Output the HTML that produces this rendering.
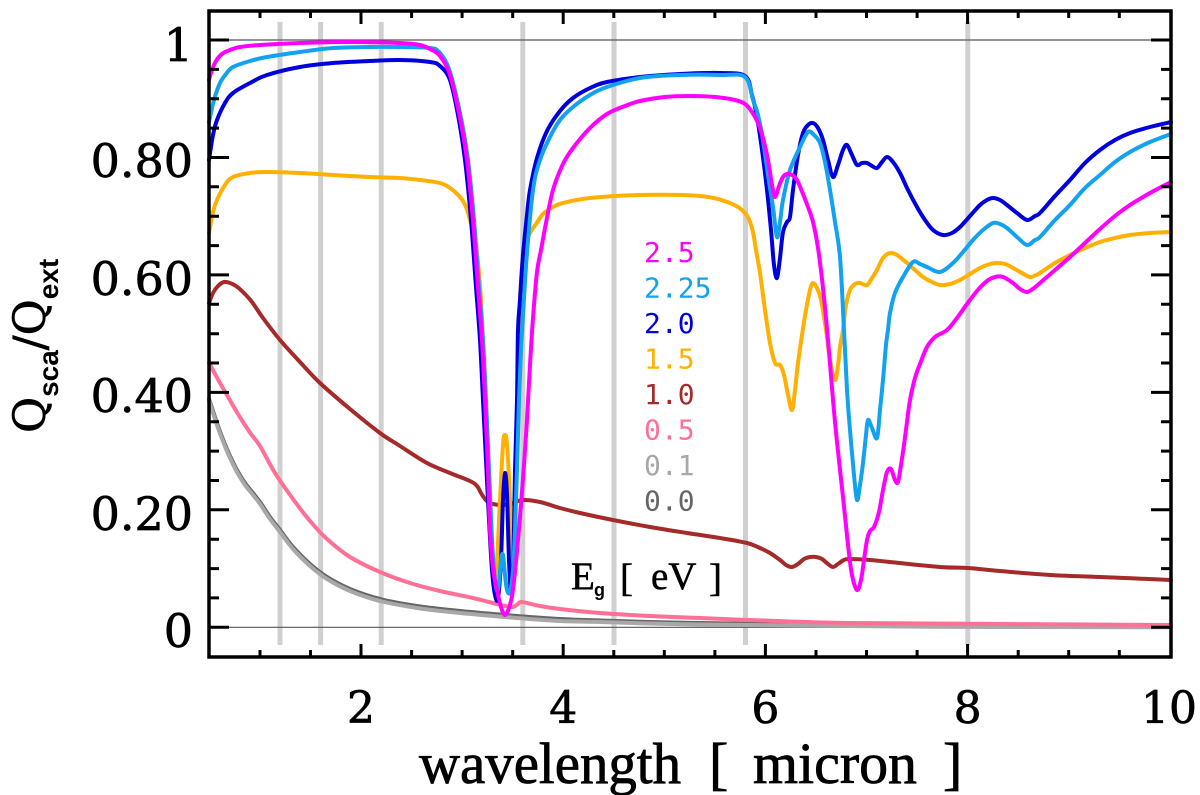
<!DOCTYPE html>
<html>
<head>
<meta charset="utf-8">
<style>
  html, body { margin:0; padding:0; background:#fff; }
  svg { display:block; }
</style>
</head>
<body>
<svg id="chart" width="1200" height="795" viewBox="0 0 1200 795" xmlns="http://www.w3.org/2000/svg">
  <rect x="0" y="0" width="1200" height="795" fill="#fff"/>

  <!-- vertical gray reference lines -->
  <g stroke="#d0d0d0" stroke-width="5">
    <line x1="280" y1="22" x2="280" y2="645"/>
    <line x1="320.6" y1="22" x2="320.6" y2="645"/>
    <line x1="381.2" y1="22" x2="381.2" y2="645"/>
    <line x1="522.8" y1="22" x2="522.8" y2="645"/>
    <line x1="614" y1="22" x2="614" y2="645"/>
    <line x1="745.5" y1="22" x2="745.5" y2="645"/>
    <line x1="967.8" y1="22" x2="967.8" y2="645"/>
  </g>

  <!-- horizontal lines at 0 and 1 -->
  <g stroke="#555" stroke-width="1.2">
    <line x1="209" y1="40" x2="1171" y2="40"/>
    <line x1="209" y1="627.3" x2="1171" y2="627.3"/>
  </g>

  <!-- curves -->
  <g id="curves" fill="none" stroke-width="4" stroke-linejoin="round" stroke-linecap="round">
    <polyline class="c" stroke="#666666" points="209,399 213,411 218,426 224,442 230,456 237,470 245,483 253,493 260,502 270,517 280,530 293,547 310,564 327,577 350,589 380,599 417,606 450,610 493,614 517,616 560,619 600,620.5 650,622 700,623 800,624.5 900,625.5 1000,626 1171,626.5"/>
    <polyline class="c" stroke="#a8a8a8" points="209,401 213,413 218,428 224,444 230,458 237,472 245,485 253,495 260,504 270,519 280,532 293,549 310,566 327,579 350,591 380,601 417,608 450,612 493,616 517,618 560,621 600,622 650,623.5 700,624.5 800,625.5 900,626.5 1000,627 1171,627.3"/>
    <polyline class="c" stroke="#ff7096" points="209,363 214,372 220,383 227,395 235,409 243,422 251,434 260,446 275,473 293,499 310,521 327,539 350,557 380,572 410,583 440,591 473,598 493,603 505,606 513,607 518,604 522,602 540,606 560,609 600,613 650,616 700,618 750,620 850,623 1000,624 1171,625"/>
    <polyline class="c" stroke="#a52a2a" points="209,303 213,293 218,286 224,282 230,283 236,286 243,292 252,302 263,318 280,340 300,362 320,383 350,409 380,433 400,446 427,463 450,473 470,481 477,486 481,493 485,499 490,503 500,505 510,504 523,500 540,502 560,508 580,513 613,520 650,527 687,533 720,538 747,543 760,548 770,553 780,560 786,565 792,567 798,564 804,559 810,557 816,557 822,559 828,564 833,567 838,564 844,560 850,559 870,560 890,562 940,567 968,568 1000,571 1050,575 1100,577 1171,580"/>
    <polyline class="c" stroke="#ffb000" points="209,233 213,212 217,200 225,185 233,177 250,173 267,172 300,173 333,175 370,177 400,178 420,180 440,183 450,188 460,197 466,207 470,220 474,236 477,253 480,285 482,320 485,400 488,480 491,550 494,580 497,560 500,500 503,445 505,435 507,445 510,500 512,560 514,570 516,480 518,380 520,300 523,258 527,240 530,233 536,224 543,214 553,207 563,203 590,198 640,195 700,196 730,203 745,213 752,228 756,250 760,273 765,310 770,343 775,363 780,365 784,375 788,395 792,410 795,390 798,363 802,335 806,310 810,290 813,283 817,288 821,300 826,330 830,360 835,380 838,365 840,347 843,330 846,305 850,290 855,284 860,283 867,285 872,278 877,270 883,258 890,253 897,255 907,263 915,270 923,277 932,282 940,285 950,284 960,280 970,274 980,268 990,264 997,263 1005,264 1013,268 1022,273 1030,277 1036,275 1040,273 1055,263 1070,255 1085,248 1100,242 1115,238 1130,235 1150,233 1171,232"/>
    <polyline class="c" stroke="#0000dd" points="209,160 213,135 217,120 225,103 233,93 250,83 267,75 300,67 333,63 370,61 400,60 430,62 440,66 450,80 458,115 465,160 471,220 476,287 480,340 483,400 486,460 489,520 492,570 495,595 498,598 501,560 503,500 505,473 507,495 509,560 511,592 513,580 515,470 517,400 518,330 520,300 523,255 527,215 530,190 537,158 547,131 560,111 573,98 590,88 607,82 640,77 680,74 720,73 745,76 752,95 757,117 762,150 767,190 771,230 774,265 777,278 780,258 783,232 787,222 790,217 793,190 798,155 803,133 808,125 813,123 818,128 823,140 828,160 833,177 838,165 843,150 847,145 852,155 857,165 862,163 867,163 872,166 877,168 882,162 887,157 893,162 900,173 908,190 917,207 925,220 933,230 943,235 952,233 960,227 970,216 980,205 987,200 993,198 1000,200 1007,205 1017,213 1027,220 1035,216 1040,213 1055,196 1070,180 1085,163 1100,150 1115,140 1130,133 1150,127 1171,122"/>
    <polyline class="c" stroke="#12a2ee" points="209,122 214,100 220,83 226,74 233,67 250,61 267,57 300,52 333,48 370,47 400,47 430,48 440,53 450,72 461,118 468,160 474,220 479,287 483,340 486,400 489,470 492,540 495,580 498,590 501,560 503,555 505,575 507,590 510,592 513,570 515,530 517,470 519,400 521,350 523,315 527,253 533,190 540,160 550,137 560,120 573,107 590,95 607,87 640,78 680,75 720,75 745,77 753,100 758,115 763,140 768,175 773,207 777,237 780,222 783,200 790,170 800,147 808,132 814,135 820,143 825,162 830,190 835,222 840,257 844,330 847,390 850,430 854,475 857,500 860,485 863,463 866,435 868,420 872,428 877,438 880,410 883,380 886,345 888,330 890,313 895,293 903,277 913,262 920,264 927,267 940,272 953,263 963,252 973,240 983,230 993,223 1000,224 1007,228 1017,237 1027,245 1035,240 1040,237 1055,220 1070,205 1085,188 1100,175 1115,162 1130,152 1150,142 1171,134"/>
    <polyline class="c" stroke="#ff00ff" points="209,80 212,70 216,61 222,54 230,50 240,47 260,45 300,43 350,42 400,43 420,45 432,50 440,56 450,75 460,118 467,160 473,220 478,287 482,340 485,400 488,470 490,530 493,568 497,590 501,607 505,615 509,608 512,596 515,572 518,540 521,505 524,465 527,420 530,365 533,318 537,272 541,250 546,223 553,190 563,164 573,148 590,128 607,114 625,106 640,101 665,97 690,96 715,97 735,100 745,104 752,112 758,123 763,138 768,160 772,185 775,197 779,186 783,177 787,174 792,175 797,180 803,194 808,207 813,222 818,248 823,288 828,340 833,400 837,442 843,497 848,545 852,575 857,590 861,580 864,560 867,540 870,531 874,527 879,512 883,490 887,472 891,469 895,480 898,482 901,465 904,445 907,422 910,400 915,378 920,364 927,347 935,337 947,330 957,318 967,304 977,291 987,281 995,277 1003,277 1013,283 1020,289 1027,292 1034,288 1040,283 1055,270 1070,257 1085,243 1100,229 1115,216 1130,205 1150,193 1171,182"/>
  </g>

  <!-- frame -->
  <rect x="209" y="11" width="962" height="646" fill="none" stroke="#000" stroke-width="3.5"/>

  <!-- ticks -->
  <g stroke="#000" stroke-width="3">
    <path d="M209 627.3H229 M209 509.8H229 M209 392.4H229 M209 274.9H229 M209 157.5H229 M209 40H229"/>
    <path d="M209 597.9H219 M209 568.6H219 M209 539.2H219 M209 480.5H219 M209 451.1H219 M209 421.7H219 M209 363H219 M209 333.7H219 M209 304.3H219 M209 245.6H219 M209 216.2H219 M209 186.8H219 M209 128.1H219 M209 98.7H219 M209 69.4H219"/>
    <path d="M1171 627.3H1151 M1171 509.8H1151 M1171 392.4H1151 M1171 274.9H1151 M1171 157.5H1151 M1171 40H1151"/>
    <path d="M1171 597.9H1161 M1171 568.6H1161 M1171 539.2H1161 M1171 480.5H1161 M1171 451.1H1161 M1171 421.7H1161 M1171 363H1161 M1171 333.7H1161 M1171 304.3H1161 M1171 245.6H1161 M1171 216.2H1161 M1171 186.8H1161 M1171 128.1H1161 M1171 98.7H1161 M1171 69.4H1161"/>
    <path d="M361 657V644 M563.2 657V644 M765.4 657V644 M967.6 657V644"/>
    <path d="M260 657V650 M310.5 657V650 M411.6 657V650 M462.1 657V650 M512.7 657V650 M613.8 657V650 M664.3 657V650 M714.9 657V650 M816 657V650 M866.5 657V650 M917.1 657V650 M1018.2 657V650 M1068.7 657V650 M1119.3 657V650"/>
    <path d="M361 11V24 M563.2 11V24 M765.4 11V24 M967.6 11V24"/>
    <path d="M260 11V18 M310.5 11V18 M411.6 11V18 M462.1 11V18 M512.7 11V18 M613.8 11V18 M664.3 11V18 M714.9 11V18 M816 11V18 M866.5 11V18 M917.1 11V18 M1018.2 11V18 M1068.7 11V18 M1119.3 11V18"/>
  </g>

  <!-- y tick labels -->
  <g font-family="'DejaVu Serif', 'Liberation Serif', serif" font-size="46" fill="#000" stroke="#000" stroke-width="0.7" text-anchor="end">
    <text x="193" y="647">0</text>
    <text x="193" y="530">0.20</text>
    <text x="193" y="412">0.40</text>
    <text x="193" y="295">0.60</text>
    <text x="193" y="177">0.80</text>
    <text x="193" y="61">1</text>
  </g>

  <!-- x tick labels -->
  <g font-family="'DejaVu Serif', 'Liberation Serif', serif" font-size="44" fill="#000" stroke="#000" stroke-width="0.7" text-anchor="middle">
    <text x="361" y="723">2</text>
    <text x="563.2" y="723">4</text>
    <text x="765.4" y="723">6</text>
    <text x="967.6" y="723">8</text>
    <text x="1169" y="723">10</text>
  </g>

  <!-- x axis title -->
  <g font-family="'Liberation Serif', serif" font-size="58" fill="#000" stroke="#000" stroke-width="0.8">
    <text x="419" y="783" textLength="262" lengthAdjust="spacingAndGlyphs">wavelength</text>
    <text x="709" y="783">[</text>
    <text x="753" y="783" textLength="164" lengthAdjust="spacingAndGlyphs">micron</text>
    <text x="943" y="783">]</text>
  </g>

  <!-- y axis title -->
  <text transform="translate(45,433) rotate(-90)" font-family="'DejaVu Serif', 'Liberation Serif', serif" font-size="44" fill="#000" stroke="#000" stroke-width="0.7">Q<tspan font-family="'Liberation Sans', sans-serif" font-weight="bold" font-size="28" dy="13" stroke-width="0">sca</tspan><tspan dy="-13">/Q</tspan><tspan font-family="'Liberation Sans', sans-serif" font-weight="bold" font-size="28" dy="13" stroke-width="0">ext</tspan></text>

  <!-- legend values -->
  <g font-family="'DejaVu Sans Mono', 'Liberation Mono', monospace" font-size="28">
    <text x="644" y="262" fill="#ff00ff">2.5</text>
    <text x="644" y="297.5" fill="#12a2ee">2.25</text>
    <text x="644" y="333" fill="#0000dd">2.0</text>
    <text x="644" y="368.5" fill="#ffb000">1.5</text>
    <text x="644" y="404" fill="#a52a2a">1.0</text>
    <text x="644" y="439.5" fill="#ff7096">0.5</text>
    <text x="644" y="475" fill="#a8a8a8">0.1</text>
    <text x="644" y="510.5" fill="#666666">0.0</text>
  </g>

  <!-- Eg [ eV ] -->
  <g font-family="'Liberation Serif', serif" font-size="39" fill="#000" stroke="#000" stroke-width="0.5">
    <text x="571" y="589">E</text>
    <text x="594" y="596" font-family="'Liberation Sans', sans-serif" font-weight="bold" font-size="18" stroke-width="0">g</text>
    <text x="620" y="591">[</text>
    <text x="651" y="589">eV</text>
    <text x="709" y="591">]</text>
  </g>
</svg>
<script>
(function(){
  var NS = "http://www.w3.org/2000/svg";
  var lines = document.querySelectorAll("#curves polyline.c");
  for (var k = 0; k < lines.length; k++) {
    var pl = lines[k];
    var raw = pl.getAttribute("points").trim().split(/\s+/);
    var p = raw.map(function(s){ var a = s.split(","); return [parseFloat(a[0]), parseFloat(a[1])]; });
    var n = p.length;
    var d = "M" + p[0][0] + "," + p[0][1];
    for (var i = 0; i < n - 1; i++) {
      var p0 = p[Math.max(i - 1, 0)], p1 = p[i], p2 = p[i + 1], p3 = p[Math.min(i + 2, n - 1)];
      var c1x = p1[0] + (p2[0] - p0[0]) / 6, c1y = p1[1] + (p2[1] - p0[1]) / 6;
      var c2x = p2[0] - (p3[0] - p1[0]) / 6, c2y = p2[1] - (p3[1] - p1[1]) / 6;
      if (c1x < p1[0]) c1x = p1[0]; if (c1x > p2[0]) c1x = p2[0];
      if (c2x < p1[0]) c2x = p1[0]; if (c2x > p2[0]) c2x = p2[0];
      d += " C" + c1x.toFixed(2) + "," + c1y.toFixed(2) + " " + c2x.toFixed(2) + "," + c2y.toFixed(2) + " " + p2[0] + "," + p2[1];
    }
    var path = document.createElementNS(NS, "path");
    path.setAttribute("d", d);
    path.setAttribute("stroke", pl.getAttribute("stroke"));
    pl.parentNode.insertBefore(path, pl);
    pl.parentNode.removeChild(pl);
  }
})();
</script>
</body>
</html>
